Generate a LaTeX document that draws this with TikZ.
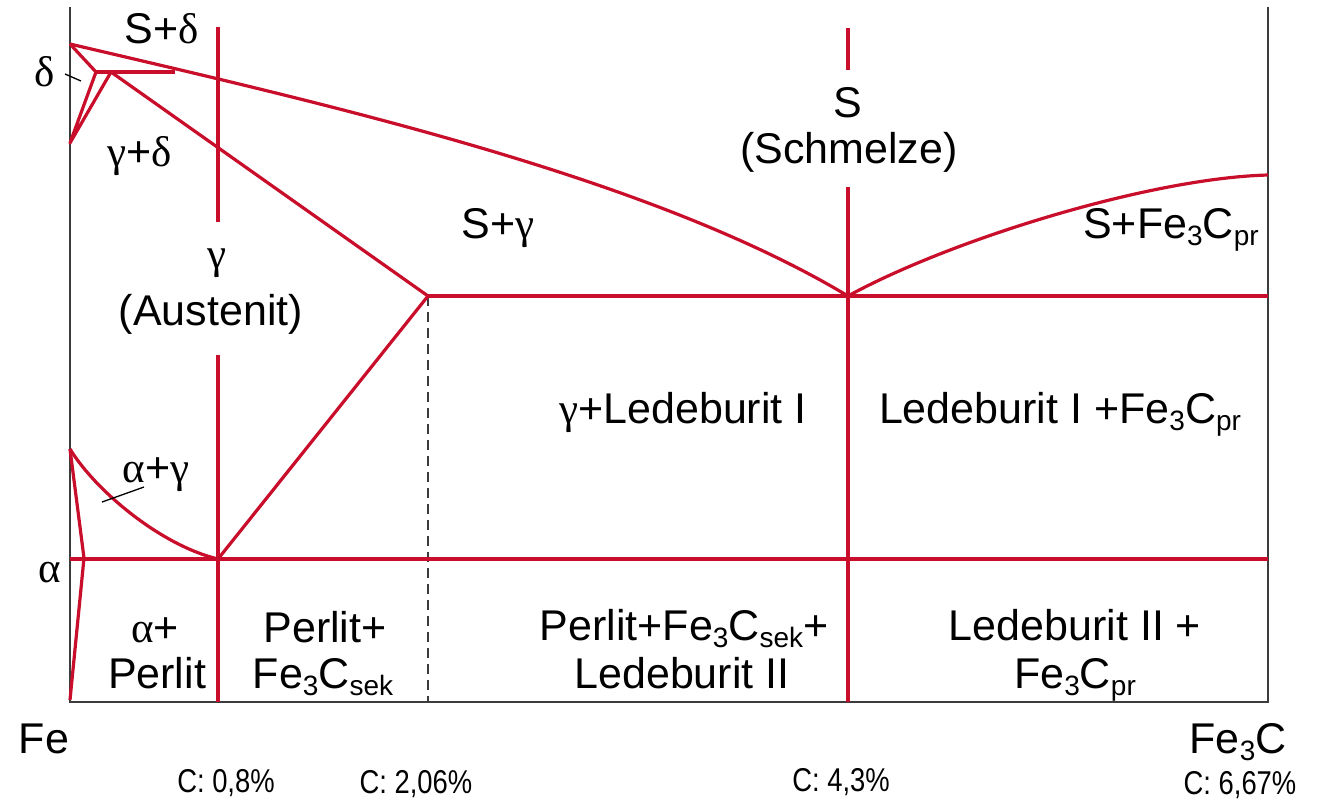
\documentclass[tikz,border=0pt]{standalone}
\usepackage{fontspec}
\setmainfont{Liberation Sans}
\newfontfamily\grfont{Liberation Serif}
\newfontfamily\cndfont[FakeStretch=0.83]{Liberation Sans}
\newcommand\gk[1]{{\grfont #1}}
\newcommand\sbs[1]{\raisebox{-0.17em}[0.6em][0pt]{\fontsize{28}{28}\selectfont #1}}
\definecolor{fered}{RGB}{200,14,42}
\definecolor{axgray}{RGB}{60,60,60}
\tikzset{
  phase/.style={draw=fered,line width=3.2pt,line join=round},
  axis/.style={draw=axgray,line width=2pt},
  tick/.style={draw=black,line width=1.3pt},
  dashln/.style={draw=axgray,line width=1.6pt,dash pattern=on 10pt off 6pt},
  lbl/.style={anchor=base,inner sep=0pt,font=\fontsize{43}{46}\selectfont},
  clbl/.style={anchor=base,inner sep=0pt,font=\cndfont\fontsize{33}{35}\selectfont},
}
\begin{document}
\begin{tikzpicture}[x=1pt,y=-1pt]
\useasboundingbox (0,0) rectangle (1329,801);
% key points
\coordinate (A) at (70,44);
\coordinate (H) at (96,72);
\coordinate (N) at (70,143);
\coordinate (B) at (111,72);
\coordinate (Hr) at (175,72);
\coordinate (E) at (428,296);
\coordinate (C) at (848,296);
\coordinate (D) at (1268,175);
\coordinate (G) at (70,449);
\coordinate (P) at (84,558);
\coordinate (S) at (218,559);
\coordinate (Q) at (70,700);
% axes
\draw[axis] (70,7) -- (70,702) -- (1268,702) -- (1268,7);
% dashed
\draw[dashln] (E) -- (428,702);
% phase lines
\draw[phase] (A) .. controls (330,105) and (650,177) .. (C);
\draw[phase] (C) .. controls (950,240) and (1150,178) .. (D);
\draw[phase] (A) -- (H) -- (N) -- (B) -- (E);
\draw[phase] (H) -- (Hr);
\draw[phase] (E) -- (1268,296);
\draw[phase] (E) -- (S);
\draw[phase] (G) .. controls (95,490) and (160,545) .. (S);
\draw[phase] (G) -- (P) -- (Q);
\draw[phase] (70,559) -- (1268,559);
\draw[phase] (218,27) -- (218,222);
\draw[phase] (218,355) -- (218,702);
\draw[phase] (848,28) -- (848,70);
\draw[phase] (848,187) -- (848,702);
% ticks
\draw[tick] (65,74) -- (81,81);
\draw[tick] (102,502) -- (144,487);
% labels
\node[lbl] (l1) at (162,43) {S+\gk{δ}};
\node[lbl] (l2) at (45,86) {\gk{δ}};
\node[lbl] (l3) at (140,166) {\gk{γ}+\gk{δ}};
\node[lbl] (l4) at (217,268) {\gk{γ}};
\node[lbl] (l5) at (211,325) {(Austenit)};
\node[lbl] (l6) at (848,117) {S};
\node[lbl] (l7) at (849,163) {(Schmelze)};
\node[lbl] (l8) at (498,238) {S+\gk{γ}};
\node[lbl] (l9) at (1171,238) {S+Fe\sbs{3}C\sbs{pr}};
\node[lbl] (l10) at (683,423) {\gk{γ}+Ledeburit I};
\node[lbl] (l11) at (1060,423) {Ledeburit I +Fe\sbs{3}C\sbs{pr}};
\node[lbl] (l12) at (156,482) {\gk{α}+\gk{γ}};
\node[lbl] (l13) at (50,582) {\gk{α}};
\node[lbl] (l14) at (155,642) {\gk{α}+};
\node[lbl] (l15) at (157,688) {Perlit};
\node[lbl] (l16) at (325,642) {Perlit+};
\node[lbl] (l17) at (323,688) {Fe\sbs{3}C\sbs{sek}};
\node[lbl] (l18) at (684,640) {Perlit+Fe\sbs{3}C\sbs{sek}+};
\node[lbl] (l19) at (682,688) {Ledeburit II};
\node[lbl] (l20) at (1075,640) {Ledeburit II +};
\node[lbl] (l21) at (1075,688) {Fe\sbs{3}C\sbs{pr}};
\node[lbl] (l22) at (44,753) {Fe};
\node[lbl] (l23) at (1238,753) {Fe\sbs{3}C};
\node[clbl] (c1) at (226,792) {C: 0,8\%};
\node[clbl] (c2) at (416,793) {C: 2,06\%};
\node[clbl] (c3) at (841,791) {C: 4,3\%};
\node[clbl] (c4) at (1240,794) {C: 6,67\%};
\end{tikzpicture}
\end{document}
